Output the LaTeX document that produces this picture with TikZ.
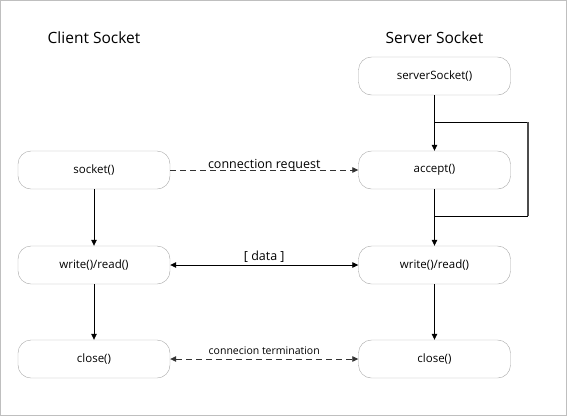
\documentclass[tikz,border=0pt]{standalone}
\usepackage{fontspec}
\setmainfont{Open Sans}
\usetikzlibrary{arrows.meta}
\begin{document}
\begin{tikzpicture}[x=1pt,y=-1pt,
  box/.style={draw=black!35, rounded corners=13pt, minimum width=152pt, minimum height=38pt, inner sep=0pt, font=\fontsize{11.5}{13}\selectfont},
  title/.style={font=\fontsize{15.5}{18}\selectfont},
  conn/.style={line width=0.8pt, -{Triangle[length=6pt,width=5.5pt]}},
  lbl/.style={font=\fontsize{12.5}{14}\selectfont, inner sep=1pt},
  slbl/.style={font=\fontsize{10.5}{12}\selectfont, inner sep=1pt}]
\draw[black!25, line width=1pt] (0.5,0.5) rectangle (566.5,415.5);
\useasboundingbox (0,0) rectangle (567,416);
\node[title] (ct) at (94,38) {Client Socket};
\node[title] (st) at (434.5,38) {Server Socket};
\node[box] (ss) at (434.5,76) {serverSocket()};
\node[box] (cs) at (94,170) {socket()};
\node[box] (ac) at (434.5,170) {accept()};
\node[box] (cw) at (94,265) {write()/read()};
\node[box] (sw) at (434.5,265) {write()/read()};
\node[box] (cc) at (94,359) {close()};
\node[box] (sc) at (434.5,359) {close()};
\coordinate (l1) at (434.5,122);
\coordinate (l2) at (528,122);
\coordinate (l3) at (528,216);
\coordinate (l4) at (434.5,216);
\draw[conn] (ss) -- (ac);
\draw[line width=0.8pt] (l1) -- (l2);
\draw[line width=1.2pt, black!70] (l2) -- (l3);
\draw[line width=0.8pt] (l3) -- (l4);
\draw[conn] (ac) -- (sw);
\draw[conn] (cs) -- (cw);
\draw[conn] (cw) -- (cc);
\draw[conn] (sw) -- (sc);
\draw[conn, dashed, dash pattern=on 6pt off 4pt, black!80] (cs) -- node[lbl, above, yshift=-3pt, text=black] {connection request} (ac);
\draw[conn, {Triangle[length=6pt,width=5.5pt]}-{Triangle[length=6pt,width=5.5pt]}] (cw) -- node[lbl, above, yshift=1pt] {[ data ]} (sw);
\draw[conn, dashed, dash pattern=on 6pt off 4pt, black!80, {Triangle[length=6pt,width=5.5pt]}-{Triangle[length=6pt,width=5.5pt]}] (cc) -- node[slbl, above, yshift=3pt, text=black] {connecion termination} (sc);
\end{tikzpicture}
\end{document}
